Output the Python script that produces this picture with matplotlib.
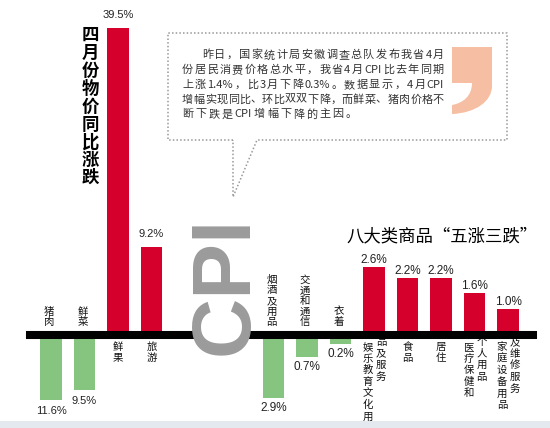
import re
import numpy as np
import matplotlib
matplotlib.use("Agg")
import matplotlib.pyplot as plt
from matplotlib.path import Path
from matplotlib.patches import PathPatch, Rectangle

plt.rcParams["font.family"] = ["Noto Sans CJK SC", "DejaVu Sans"]

# data -----------------------------------------------------------------
goods = ["猪肉", "鲜菜", "鲜果", "旅游"]
goods_change = [-11.6, -9.5, 39.5, 9.2]

cats = ["烟酒及用品", "交通和通信", "衣着", "娱乐教育文化用品及服务",
        "食品", "居住", "医疗保健和个人用品", "家庭设备用品及维修服务"]
cats_change = [-2.9, -0.7, -0.2, 2.6, 2.2, 2.2, 1.6, 1.0]
# long names are printed in two columns, split after n characters
cats_split = [0, 0, 0, 7, 0, 0, 5, 6]

title = "四月份物价同比涨跌"
subtitle = "八大类商品“五涨三跌”"
intro = [
    "昨日，国家统计局安徽调查总队发布我省4月",
    "份居民消费价格总水平，我省4月CPI比去年同期",
    "上涨1.4%，比3月下降0.3%。数据显示，4月CPI",
    "增幅实现同比、环比双双下降，而鲜菜、猪肉价格不",
    "断下跌是CPI增幅下降的主因。",
]

RED = "#d5002b"
GREEN = "#86c580"
GREY = "#9b9b9b"


# the infographic is not drawn to a linear scale, use a power scale
def power_scale(gp, pp, gn, pn):
    def fwd(v):
        v = np.asarray(v, dtype=float)
        return np.where(v >= 0, gp * np.abs(v) ** pp, -gn * np.abs(v) ** pn)

    def inv(t):
        t = np.asarray(t, dtype=float)
        return np.where(t >= 0, (np.abs(t) / gp) ** (1 / pp), -(np.abs(t) / gn) ** (1 / pn))

    return fwd, inv


W, H = 550, 428
fig = plt.figure(figsize=(W / 100, H / 100), dpi=100)
fig.patch.set_facecolor("white")

top_px, bot_px, base_px = 10, 420, 335


def panel(x0, x1, n, scale):
    ax = fig.add_axes([x0 / W, (H - bot_px) / H, (x1 - x0) / W, (bot_px - top_px) / H], zorder=1)
    fwd, inv = scale
    ax.set_yscale("function", functions=(fwd, inv))
    ax.set_ylim(float(inv(-(bot_px - base_px))), float(inv(base_px - top_px)))
    ax.set_xlim(-0.5, n - 0.5)
    ax.axis("off")
    ax.patch.set_alpha(0)
    return ax


def vlabel(ax, i, s, dx, start, step):
    for k, ch in enumerate(s):
        ax.annotate(ch, (i, 0), xytext=(dx, start - k * step), textcoords="offset pixels",
                    ha="center", va="center", fontsize=7.5, color="#111111")


def draw_panel(ax, names, values, split, pos_off, neg_off, vsize):
    colors = [RED if v > 0 else GREEN for v in values]
    ax.bar(range(len(values)), values, width=0.64, color=colors, zorder=2)
    for i, (name, v) in enumerate(zip(names, values)):
        ax.annotate(f"{abs(v):.1f}%", (i, v), xytext=(0, pos_off if v > 0 else neg_off),
                    textcoords="offset pixels", ha="center", va="center",
                    fontsize=vsize, family="Liberation Sans", color="#222222")
        if v < 0:
            vlabel(ax, i, name, -2, 13 + 10.5 * (len(name) - 1), 10.5)
        elif split[i]:
            vlabel(ax, i, name[:split[i]], -6, -12, 11.6)
            vlabel(ax, i, name[split[i]:], 7, -7, 11.6)
        else:
            vlabel(ax, i, name, 0, -12, 11.5)


ax1 = panel(34.25, 168.25, len(goods), power_scale(13.0, 0.86, 7.9, 0.86))
draw_panel(ax1, goods, goods_change, [0] * len(goods), 13, -11, 8)
ax1.axhline(0, xmin=-0.032, xmax=1.17, color="black", lw=5.8, clip_on=False, zorder=3)

ax2 = panel(256.75, 524.75, len(cats), power_scale(26.0, 1.0, 28.6, 0.74))
draw_panel(ax2, cats, cats_change, cats_split, 7, -10, 8.5)
ax2.axhline(0, xmin=-0.014, xmax=1.031, color="black", lw=5.8, clip_on=False, zorder=3)

# decorations in pixel coordinates --------------------------------------
ov = fig.add_axes([0, 0, 1, 1], zorder=3)
ov.set_xlim(0, W)
ov.set_ylim(H, 0)
ov.axis("off")
ov.patch.set_alpha(0)

ov.add_patch(Rectangle((0, 421), W, 7, color="#e4e8ef", lw=0))

for k, ch in enumerate(title):
    ov.text(90, 35 + k * 17.9, ch, ha="center", va="center", fontsize=12.5, fontweight="bold")

ov.text(442, 236, subtitle, ha="center", va="center", fontsize=12.5)

ov.text(226, 285, "CPI", rotation=90, ha="center", va="center", fontsize=60,
        fontweight="bold", family="Liberation Sans", color=GREY)

# speech box with tail
bx = [233, 168, 168, 507, 507, 257, 233, 233]
by = [140, 140, 33, 33, 140, 140, 197, 140]
ov.plot(bx, by, color="#999999", lw=1.1, ls=(0, (1, 1.4)))

# big quote mark
verts = [(452, 47), (492, 47), (492, 86),
         (492, 101), (476, 113), (452, 114),
         (452, 105),
         (463, 103), (472, 96), (472, 83),
         (452, 83), (452, 47)]
codes = [Path.MOVETO, Path.LINETO, Path.LINETO,
         Path.CURVE4, Path.CURVE4, Path.CURVE4,
         Path.LINETO,
         Path.CURVE4, Path.CURVE4, Path.CURVE4,
         Path.LINETO, Path.CLOSEPOLY]
ov.add_patch(PathPatch(Path(verts, codes), facecolor="#f6bfa3", lw=0))

# justified intro text
renderer = fig.canvas.get_renderer()
for n, line in enumerate(intro):
    y = 55 + n * 14.85
    x0 = 202 if n == 0 else 182
    tokens = re.findall(r"[A-Za-z0-9.%]+|.", line)
    objs = [ov.text(0, y, t, ha="left", va="center", fontsize=8, color="#333333") for t in tokens]
    widths = [o.get_window_extent(renderer).width for o in objs]
    if n < len(intro) - 1:
        gap = (444 - x0 - sum(widths)) / (len(objs) - 1)
    else:
        gap = 2.0
    x = x0
    for o, w in zip(objs, widths):
        o.set_x(x)
        x += w + gap

fig.savefig("out.png", dpi=100)
